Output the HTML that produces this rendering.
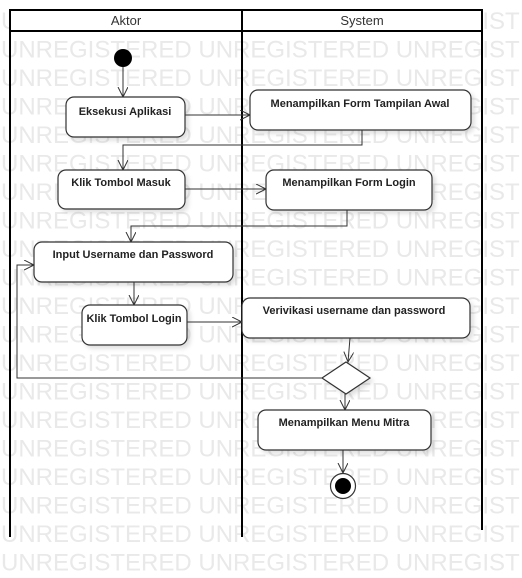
<!DOCTYPE html>
<html><head><meta charset="utf-8"><style>
html,body{margin:0;padding:0;background:#fff;}
svg{display:block;}
.wm{font-family:"Liberation Sans",sans-serif;font-size:24px;fill:#e9e9e9;}
.lbl{font-family:"Liberation Sans",sans-serif;font-size:11px;font-weight:bold;fill:#222;}
.hd{font-family:"Liberation Sans",sans-serif;font-size:13px;fill:#333;}
</style></head><body>
<svg width="522" height="578" viewBox="0 0 522 578" xmlns="http://www.w3.org/2000/svg">
<defs>
<marker id="a" markerWidth="12" markerHeight="12" refX="10" refY="5" orient="auto" markerUnits="userSpaceOnUse">
<path d="M0,0 L10,5 L0,10" fill="none" stroke="#333" stroke-width="1"/></marker>
<filter id="sh" x="-10%" y="-10%" width="130%" height="140%"><feDropShadow dx="3" dy="3" stdDeviation="2" flood-color="#000" flood-opacity="0.12"/></filter>
</defs>
<g class="wm">
<text x="1" y="29">UNREGISTERED UNREGISTERED UNREGIST</text>
<text x="1" y="57.5">UNREGISTERED UNREGISTERED UNREGIST</text>
<text x="1" y="86">UNREGISTERED UNREGISTERED UNREGIST</text>
<text x="1" y="114.5">UNREGISTERED UNREGISTERED UNREGIST</text>
<text x="1" y="143">UNREGISTERED UNREGISTERED UNREGIST</text>
<text x="1" y="171.5">UNREGISTERED UNREGISTERED UNREGIST</text>
<text x="1" y="200">UNREGISTERED UNREGISTERED UNREGIST</text>
<text x="1" y="228.5">UNREGISTERED UNREGISTERED UNREGIST</text>
<text x="1" y="257">UNREGISTERED UNREGISTERED UNREGIST</text>
<text x="1" y="285.5">UNREGISTERED UNREGISTERED UNREGIST</text>
<text x="1" y="314">UNREGISTERED UNREGISTERED UNREGIST</text>
<text x="1" y="342.5">UNREGISTERED UNREGISTERED UNREGIST</text>
<text x="1" y="371">UNREGISTERED UNREGISTERED UNREGIST</text>
<text x="1" y="399.5">UNREGISTERED UNREGISTERED UNREGIST</text>
<text x="1" y="428">UNREGISTERED UNREGISTERED UNREGIST</text>
<text x="1" y="456.5">UNREGISTERED UNREGISTERED UNREGIST</text>
<text x="1" y="485">UNREGISTERED UNREGISTERED UNREGIST</text>
<text x="1" y="513.5">UNREGISTERED UNREGISTERED UNREGIST</text>
<text x="1" y="542">UNREGISTERED UNREGISTERED UNREGIST</text>
<text x="1" y="570.5">UNREGISTERED UNREGISTERED UNREGIST</text>
</g>
<!-- lanes -->
<rect x="10" y="10" width="472" height="21" fill="#fff" stroke="#000" stroke-width="2"/>
<text class="hd" x="126" y="25" text-anchor="middle">Aktor</text>
<text class="hd" x="362" y="25" text-anchor="middle">System</text>
<g stroke="#000" stroke-width="2">
<line x1="10" y1="10" x2="10" y2="537"/>
<line x1="242" y1="10" x2="242" y2="537"/>
<line x1="482" y1="10" x2="482" y2="530"/>
</g>
<!-- connectors -->
<g stroke="#333" stroke-width="1" fill="none">
<line x1="123" y1="67" x2="123" y2="97" marker-end="url(#a)"/>
<line x1="185" y1="115" x2="250" y2="115" marker-end="url(#a)"/>
<polyline points="362,130 362,145 123,145 123,170" marker-end="url(#a)"/>
<line x1="185" y1="189" x2="266" y2="189" marker-end="url(#a)"/>
<polyline points="347,210 347,226 131,226 131,242" marker-end="url(#a)"/>
<line x1="134" y1="282" x2="134" y2="305" marker-end="url(#a)"/>
<line x1="187" y1="322" x2="242" y2="322" marker-end="url(#a)"/>
<line x1="350" y1="338" x2="348" y2="362" marker-end="url(#a)"/>
<polyline points="322,378 17,378 17,265 34,265" marker-end="url(#a)"/>
<line x1="345" y1="394" x2="345" y2="410" marker-end="url(#a)"/>
<line x1="343" y1="450" x2="343" y2="473" marker-end="url(#a)"/>
</g>
<!-- nodes -->
<circle cx="123" cy="58" r="9" fill="#000"/>
<g fill="#fff" stroke="#333" stroke-width="1.2" filter="url(#sh)">
<rect x="66" y="97" width="119" height="40" rx="8"/>
<rect x="250" y="90" width="221" height="40" rx="8"/>
<rect x="58" y="170" width="127" height="39" rx="8"/>
<rect x="266" y="170" width="166" height="40" rx="8"/>
<rect x="34" y="242" width="199" height="40" rx="8"/>
<rect x="82" y="305" width="105" height="40" rx="8"/>
<rect x="242" y="298" width="228" height="40" rx="8"/>
<polygon points="346,362 370,378 346,394 322,378"/>
<rect x="258" y="410" width="173" height="40" rx="8"/>
</g>
<circle cx="343" cy="486" r="12.5" fill="#fff" stroke="#333" stroke-width="1.2"/>
<circle cx="343" cy="486" r="8" fill="#000"/>
<g class="lbl" text-anchor="middle">
<text x="125" y="115">Eksekusi Aplikasi</text>
<text x="360" y="107">Menampilkan Form Tampilan Awal</text>
<text x="121" y="186">Klik Tombol Masuk</text>
<text x="349" y="186">Menampilkan Form Login</text>
<text x="133" y="258">Input Username dan Password</text>
<text x="134" y="322">Klik Tombol Login</text>
<text x="354" y="314">Verivikasi username dan password</text>
<text x="344" y="426">Menampilkan Menu Mitra</text>
</g>
</svg>
</body></html>
